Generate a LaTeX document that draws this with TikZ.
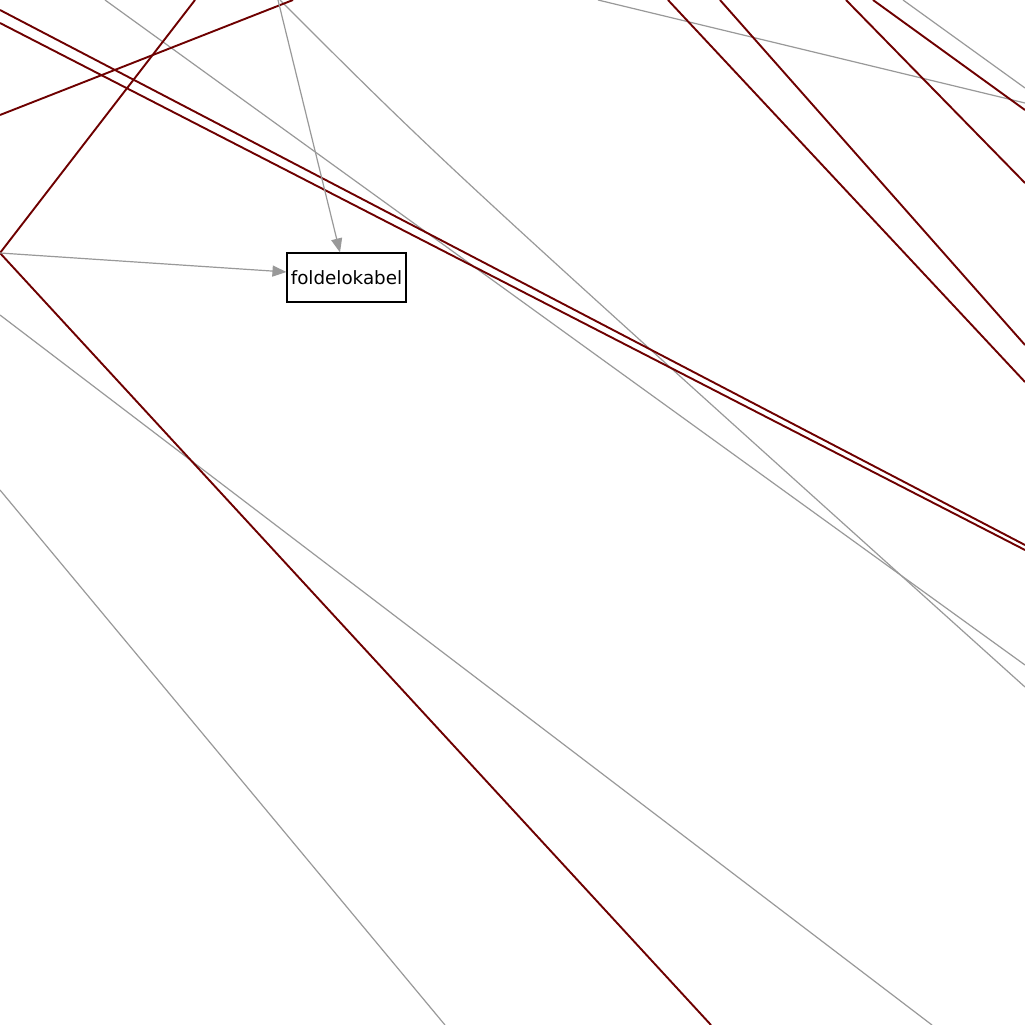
\documentclass[tikz,border=0pt]{standalone}
\usepackage{fontspec}
\setmainfont{DejaVu Sans}
\usetikzlibrary{arrows.meta}
\definecolor{edgered}{HTML}{6E0000}
\definecolor{edgegray}{HTML}{999999}
\tikzset{
  redline/.style={draw=edgered, line width=1.9pt},
  grayline/.style={draw=edgegray, line width=1.2pt},
  grayarrow/.style={grayline, -{Triangle[length=14pt,width=11pt]}},
  boxnode/.style={draw=black, line width=1.1pt, fill=white, minimum width=119pt, minimum height=49pt, inner sep=0pt, font=\fontsize{18.3}{20}\selectfont}
}
\begin{document}
\begin{tikzpicture}[x=1pt,y=-1pt]
\useasboundingbox (0,0) rectangle (1025,1025);
\clip (0,0) rectangle (1025,1025);
\fill[white] (0,0) rectangle (1025,1025);
% free ends
\coordinate (r1a) at (0,10);    \coordinate (r1b) at (1025,545);
\coordinate (r2a) at (0,23);    \coordinate (r2b) at (1025,550);
\coordinate (r3a) at (0,115);   \coordinate (r3b) at (293,0);
\coordinate (r4a) at (195,0);   \coordinate (v)   at (0,253);  \coordinate (r4b) at (711,1025);
\coordinate (r5a) at (668,0);   \coordinate (r5b) at (1025,382);
\coordinate (r6a) at (720,0);   \coordinate (r6b) at (1025,345);
\coordinate (r7a) at (846,0);   \coordinate (r7b) at (1025,183);
\coordinate (r8a) at (873,0);   \coordinate (r8b) at (1025,110);
\coordinate (g1a) at (598,0);   \coordinate (g1b) at (1025,103);
\coordinate (g2a) at (903,0);   \coordinate (g2b) at (1025,88);
\coordinate (g3a) at (105,0);   \coordinate (g3b) at (1025,665);
\coordinate (g4a) at (280,0);   \coordinate (g4c) at (445,165); \coordinate (g4b) at (1025,687);
\coordinate (g6a) at (0,315);   \coordinate (g6b) at (932,1025);
\coordinate (g7a) at (0,490);   \coordinate (g7b) at (445,1025);
\coordinate (ta)  at (278,0);
% node
\node[boxnode] (n) at (346.5,277.5) {foldelokabel};
% gray lines
\draw[grayline] (g1a) -- (g1b);
\draw[grayline] (g2a) -- (g2b);
\draw[grayline] (g3a) -- (g3b);
\draw[grayline] (g4a) .. controls (g4c) .. (g4b);
\draw[grayline] (g6a) -- (g6b);
\draw[grayline] (g7a) -- (g7b);
% red lines
\draw[redline] (r1a) -- (r1b);
\draw[redline] (r2a) -- (r2b);
\draw[redline] (r3a) -- (r3b);
\draw[redline] (r4a) -- (v) -- (r4b);
\draw[redline] (r5a) -- (r5b);
\draw[redline] (r6a) -- (r6b);
\draw[redline] (r7a) -- (r7b);
\draw[redline] (r8a) -- (r8b);
% arrows into node
\draw[grayarrow] (ta) -- ([xshift=-6.5pt]n.north);
\draw[grayarrow] (v) -- ([yshift=5.5pt]n.west);
\end{tikzpicture}
\end{document}
